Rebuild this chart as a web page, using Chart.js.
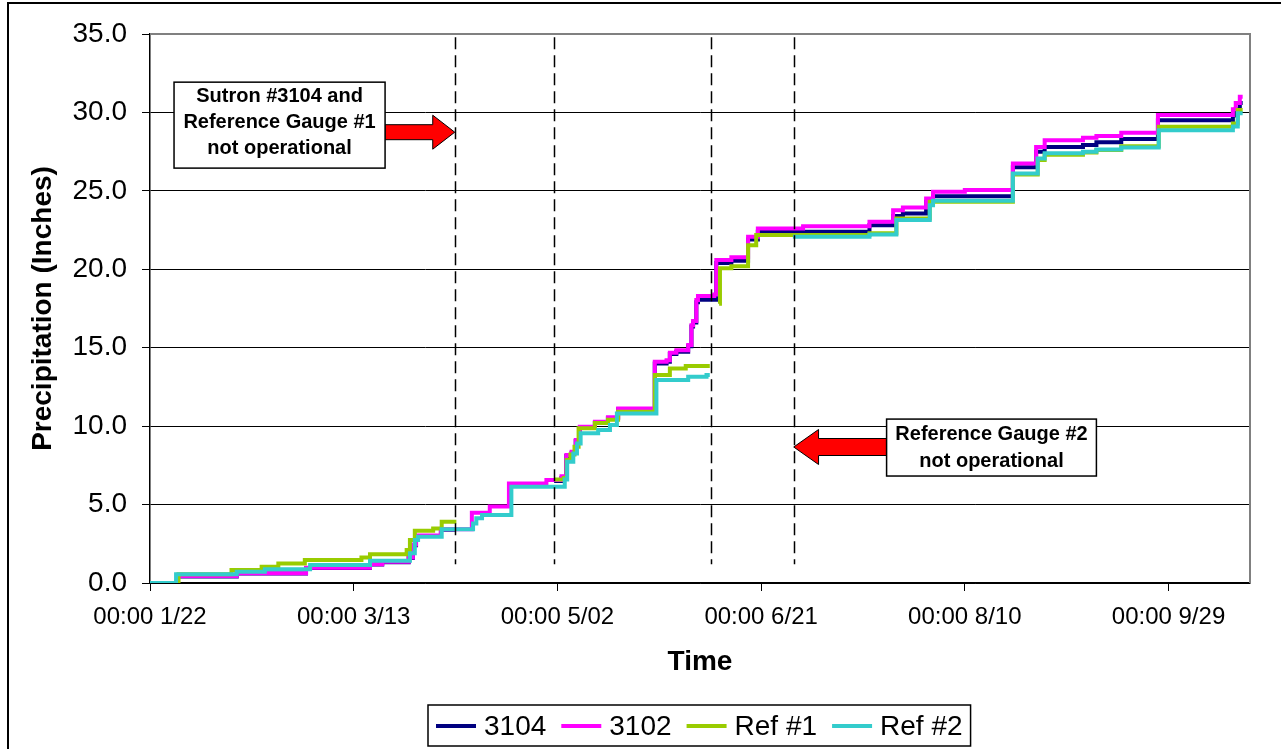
<!DOCTYPE html>
<html>
<head>
<meta charset="utf-8">
<script src="https://cdn.jsdelivr.net/npm/chart.js@4.4.1/dist/chart.umd.min.js"></script>
<style>
  html, body { margin: 0; padding: 0; background: #fff; overflow: hidden; }
  canvas { display: block; }
</style>
</head>
<body>
<canvas id="chart" width="1281" height="749"></canvas>
<script>
// x values are days counted from 00:00 1/22
const tickDays = [0, 50, 100, 150, 200, 250];
const tickLabels = ['00:00 1/22', '00:00 3/13', '00:00 5/02', '00:00 6/21', '00:00 8/10', '00:00 9/29'];
const seriesNames = ['3104', '3102', 'Ref #1', 'Ref #2'];
const seriesColors = ['#000080', '#FF00FF', '#99CC00', '#33CCCC'];

// cumulative precipitation (inches): [day, total]; null marks a period without data
const gauge3104 = [[0,0],[6.6,0.42],[21.3,0.6],[38.3,0.95],[54,1.18],[57,1.33],[63.5,1.6],[64.5,2.4],[65.3,3.0],[71.4,3.4],[74.9,3.4],[75.0,null],
  [99.2,6.5],[101,6.7],[102.2,8.1],[103.5,8.3],[104.5,9.05],[105.5,9.9],[109.2,10.22],[112.4,10.5],[114.9,11.07],[123.9,14.0],[126.8,14.1],
  [127.6,14.6],[129.2,14.75],[132.1,15.1],[132.9,16.35],[133.3,16.6],[134.1,17.9],[134.5,18.05],[139,20.4],[142.7,20.55],[146.8,21.9],
  [149.2,22.4],[176.6,22.8],[182.4,23.4],[184.8,23.55],[190.5,24.3],[192.2,24.65],[211.8,26.5],[217.5,27.5],[219.6,27.8],[229,27.92],
  [232.3,28.1],[238.4,28.3],[247.4,29.5],[265.8,29.8],[266.5,30.2],[267.5,30.6],[268.2,30.6]];

const gauge3102 = [[0,0],[6.6,0.45],[21.3,0.62],[38.3,0.98],[54,1.2],[57,1.35],[63.5,1.62],[64.5,2.45],[65.3,3.03],[71.4,3.42],[79,4.48],
  [83.4,4.88],[88.1,6.35],[97.3,6.56],[101,6.8],[102.2,8.16],[103.5,8.37],[104.5,9.11],[105.5,9.96],[109.2,10.28],[112.4,10.56],[114.9,11.13],
  [123.9,14.1],[126.8,14.2],[127.6,14.68],[129.2,14.84],[132.1,15.17],[132.9,16.44],[133.3,16.7],[134.1,18.04],[134.5,18.29],[138.5,18.4],
  [139,20.59],[142.7,20.76],[146.8,22.07],[149.2,22.6],[160.3,22.75],[176.6,23.03],[182.4,23.77],[184.8,23.94],[190.5,24.52],[192.2,24.94],
  [200,25.05],[211.8,26.75],[217.5,27.8],[219.6,28.23],[229,28.38],[232.3,28.49],[238.4,28.7],[247.4,29.83],[265.8,30.2],[266.5,30.6],
  [267.5,31.0],[268.2,31.0]];

const ref1 = [[0,0],[7.0,0.55],[20.0,0.83],[27.4,1.04],[31.5,1.25],[38.0,1.47],[51.9,1.63],[54.0,1.83],[63.0,2.1],[63.8,2.74],[65.0,3.33],
  [69.5,3.48],[71.6,3.91],[75.2,3.91],[75.3,null],[99.3,6.6],[101.6,6.7],[102.3,7.84],[103.2,8.2],[104.2,8.69],[105.2,9.86],[109.2,10.2],
  [112.4,10.4],[114.9,10.92],[123.9,13.26],[127.6,13.68],[131.5,13.83],[137.4,13.83],[137.5,null],[139.7,17.8],[139.9,20.06],[142.7,20.2],
  [146.8,21.54],[148.8,22.18],[176.6,22.3],[183.2,23.24],[191.4,24.3],[211.8,26.05],[217.9,26.96],[219.6,27.3],[229,27.45],[232.3,27.6],
  [238.4,27.85],[247.6,29.08],[265.8,29.3],[267,30.15],[268.2,30.15]];

const ref2 = [[0,0],[6.4,0.55],[21.3,0.72],[28.2,0.87],[39.3,1.15],[54.0,1.42],[63.8,1.89],[65.0,2.74],[65.8,2.95],[71.6,3.42],[79.3,3.8],
  [80.1,4.12],[81.5,4.33],[88.7,6.14],[101.8,6.6],[102.4,7.73],[103.9,8.26],[104.8,8.9],[105.7,9.54],[110,9.75],[112.9,10.07],[114.6,10.8],
  [124.3,12.94],[132.1,13.15],[136.6,13.26],[137.4,13.26],[137.5,null],[157.8,22.07],[176.6,22.22],[183.2,23.14],[191.4,24.09],[192.2,24.37],
  [211.8,26.11],[217.9,27.07],[219.6,27.39],[229,27.49],[232.3,27.64],[238.4,27.77],[247.6,28.87],[265.8,29.1],[267,29.94],[268.2,29.94]];

// days at which a gauge went offline / came back
const outageDays = [74.8, 99.1, 137.6, 158.0];
const outageSpan = [1.2, 34.8];

const note1Lines = ['Sutron #3104 and', 'Reference Gauge #1', 'not operational'];
const note2Lines = ['Reference Gauge #2', 'not operational'];

const FONT = '"Liberation Sans", Arial, Helvetica, sans-serif';

// call-out boxes and arrows, placed in data units
const notes = [
  { lines: note1Lines, box: [5.9, 57.7, 31.93, 26.45], dir: 1, tipDay: outageDays[0], headDay: 69.4, tipY: 28.74, shaft: 7.5, head: 17, lineGap: 26, textShift: -3 },
  { lines: note2Lines, box: [180.8, 232.3, 10.45, 6.82], dir: -1, tipDay: outageDays[3], headDay: 164.1, tipY: 8.67, shaft: 8.5, head: 17.5, lineGap: 27, textShift: 0 }
];

const seriesData = [gauge3104, gauge3102, ref1, ref2];

const decorations = {
  id: 'decorations',
  beforeDraw(chart) {
    const { ctx } = chart;
    ctx.save();
    ctx.fillStyle = '#fff';
    ctx.fillRect(0, 0, chart.width, chart.height);
    ctx.strokeStyle = '#000';
    ctx.lineWidth = 2;
    ctx.beginPath();
    ctx.moveTo(8, chart.height);
    ctx.lineTo(8, 3);
    ctx.lineTo(chart.width, 3);
    ctx.stroke();
    ctx.restore();
  },
  beforeDatasetsDraw(chart) {
    const { ctx, chartArea: a } = chart;
    ctx.save();
    ctx.strokeStyle = '#808080';
    ctx.lineWidth = 2;
    ctx.beginPath();
    ctx.moveTo(a.left, a.top);
    ctx.lineTo(a.right, a.top);
    ctx.lineTo(a.right, a.bottom);
    ctx.stroke();
    ctx.restore();
  },
  afterDatasetsDraw(chart) {
    const { ctx } = chart;
    const xs = chart.scales.x, ys = chart.scales.y;
    ctx.save();
    // outage markers
    ctx.strokeStyle = '#000';
    ctx.lineWidth = 1.5;
    ctx.setLineDash([12, 6]);
    outageDays.forEach(d => {
      const px = Math.round(xs.getPixelForValue(d)) + 0.5;
      ctx.beginPath();
      ctx.moveTo(px, ys.getPixelForValue(outageSpan[1]));
      ctx.lineTo(px, ys.getPixelForValue(outageSpan[0]));
      ctx.stroke();
    });
    ctx.setLineDash([]);

    notes.forEach(n => {
      const bx0 = xs.getPixelForValue(n.box[0]);
      const bx1 = xs.getPixelForValue(n.box[1]);
      const by0 = ys.getPixelForValue(n.box[2]);
      const by1 = ys.getPixelForValue(n.box[3]);
      const tipX = xs.getPixelForValue(n.tipDay);
      const headX = xs.getPixelForValue(n.headDay);
      const cy = ys.getPixelForValue(n.tipY);
      const baseX = n.dir > 0 ? bx1 : bx0;
      // arrow
      ctx.beginPath();
      ctx.moveTo(baseX, cy - n.shaft);
      ctx.lineTo(headX, cy - n.shaft);
      ctx.lineTo(headX, cy - n.head);
      ctx.lineTo(tipX, cy);
      ctx.lineTo(headX, cy + n.head);
      ctx.lineTo(headX, cy + n.shaft);
      ctx.lineTo(baseX, cy + n.shaft);
      ctx.closePath();
      ctx.fillStyle = '#FF0000';
      ctx.fill();
      ctx.strokeStyle = '#000';
      ctx.lineWidth = 1;
      ctx.stroke();
      // box
      ctx.fillStyle = '#fff';
      ctx.fillRect(bx0, by0, bx1 - bx0, by1 - by0);
      ctx.lineWidth = 1.5;
      ctx.strokeRect(bx0, by0, bx1 - bx0, by1 - by0);
      // text
      ctx.fillStyle = '#000';
      ctx.font = 'bold 20px ' + FONT;
      ctx.textAlign = 'center';
      ctx.textBaseline = 'middle';
      const cx = (bx0 + bx1) / 2;
      const mid = (by0 + by1) / 2 + n.textShift;
      const k = n.lines.length;
      n.lines.forEach((t, i) => {
        ctx.fillText(t, cx, mid + (i - (k - 1) / 2) * n.lineGap);
      });
    });
    ctx.restore();
  },
  afterDraw(chart) {
    // legend
    const { ctx } = chart;
    ctx.save();
    ctx.font = '28px ' + FONT;
    ctx.textBaseline = 'middle';
    ctx.textAlign = 'left';
    const left = 428, top = 705, h = 41, cy = top + h / 2 + 0.5;
    let x = left + 8;
    const items = chart.data.datasets.filter(d => !d.hidden);
    items.forEach((ds, i) => {
      ctx.strokeStyle = ds.borderColor;
      ctx.lineWidth = 4;
      ctx.beginPath();
      ctx.moveTo(x, cy);
      ctx.lineTo(x + 40, cy);
      ctx.stroke();
      x += 48;
      ctx.fillStyle = '#000';
      ctx.fillText(ds.label, x, cy + 1);
      x += ctx.measureText(ds.label).width;
      if (i < items.length - 1) x += 15;
    });
    x += 8;
    ctx.strokeStyle = '#000';
    ctx.lineWidth = 1.5;
    ctx.strokeRect(left, top, x - left, h);
    ctx.restore();
  }
};

const datasets = seriesData.map((rows, i) => ({
  label: seriesNames[i],
  data: rows.map(r => ({ x: r[0], y: r[1] })),
  borderColor: seriesColors[i],
  backgroundColor: seriesColors[i],
  borderWidth: 4,
  pointRadius: 0,
  stepped: true,
  fill: false,
  spanGaps: false,
  order: 4 - i
}));

new Chart(document.getElementById('chart'), {
  type: 'line',
  data: { datasets },
  plugins: [decorations],
  options: {
    responsive: false,
    animation: false,
    devicePixelRatio: 1,
    layout: { padding: { top: 34, right: 31, bottom: 0, left: 0 } },
    plugins: { legend: { display: false }, tooltip: { enabled: false } },
    scales: {
      x: {
        type: 'linear',
        min: 0,
        max: 270,
        afterBuildTicks: s => { s.ticks = tickDays.map(v => ({ value: v })); },
        afterFit: s => { s.height = 166; },
        ticks: {
          callback: v => tickLabels[tickDays.indexOf(v)],
          color: '#000',
          font: { family: FONT, size: 24 },
          padding: 12,
          maxRotation: 0,
          autoSkip: false
        },
        grid: { drawOnChartArea: false, drawTicks: true, tickLength: 8, color: '#000', tickColor: '#000' },
        border: { color: '#000', width: 1.5 },
        title: {
          display: true,
          text: 'Time',
          color: '#000',
          font: { family: FONT, size: 28, weight: 'bold' },
          padding: { top: 4, bottom: 70 }
        }
      },
      y: {
        min: 0,
        max: 35,
        afterFit: s => { s.width = 150; },
        ticks: {
          stepSize: 5,
          callback: v => v.toFixed(1),
          color: '#000',
          font: { family: FONT, size: 28 },
          padding: 15
        },
        grid: {
          color: c => (c.tick && c.tick.value === 35 ? 'rgba(0,0,0,0)' : '#000'),
          tickColor: '#000',
          tickLength: 8,
          lineWidth: 1
        },
        border: { color: '#000', width: 1.5 },
        title: {
          display: true,
          text: 'Precipitation (Inches)',
          color: '#000',
          font: { family: FONT, size: 28, weight: 'bold' },
          padding: { top: 26, bottom: 0 }
        }
      }
    }
  }
});
</script>
</body>
</html>
